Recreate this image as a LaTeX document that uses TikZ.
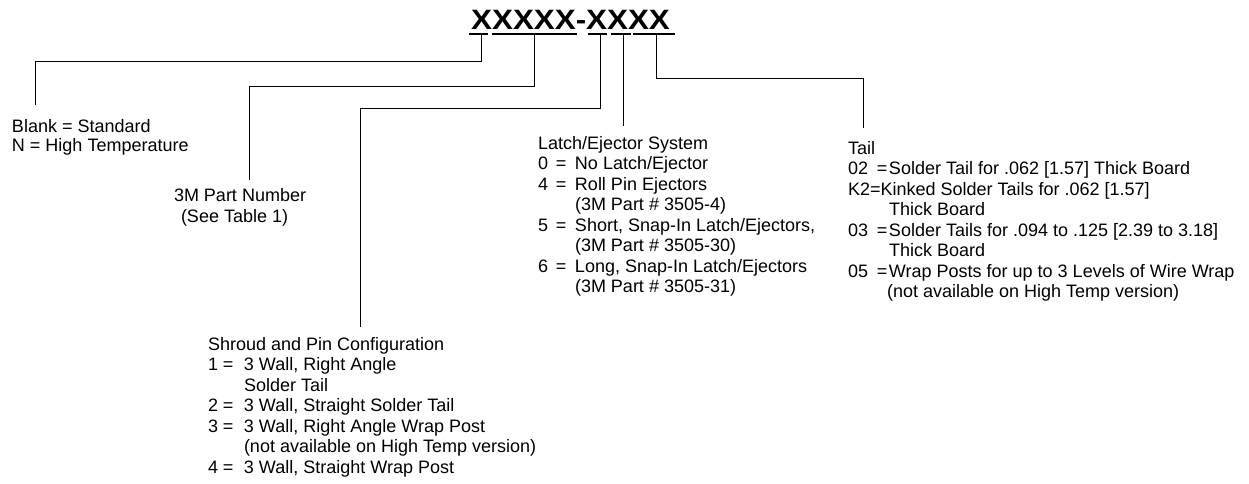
\documentclass[tikz,border=0pt]{standalone}
\usepackage{fontspec}
\setmainfont{Liberation Sans}
\begin{document}
\begin{tikzpicture}[x=1pt,y=-1pt,
  blk/.style={inner sep=0pt,outer sep=0pt,anchor=base west,
    font=\fontsize{18}{20.5}\selectfont},
  conn/.style={draw=black,line width=0.8pt},
  uline/.style={draw=black,line width=1.1pt}]
\useasboundingbox (0,0) rectangle (1249,484);
% title
\node[inner sep=0pt,anchor=base west] (title) at (471,29.5)
  {\fontsize{28}{28}\selectfont\bfseries\scalebox{1.12}[1]{XXXXX-XXXX}};
% underlines
\coordinate (u1a) at (469,34); \coordinate (u1b) at (488,34);
\coordinate (u2a) at (492,34); \coordinate (u2b) at (577,34);
\coordinate (u3a) at (588,34); \coordinate (u3b) at (607,34);
\coordinate (u4a) at (611,34); \coordinate (u4b) at (631,34);
\coordinate (u5a) at (633,34); \coordinate (u5b) at (675,34);
\draw[uline] (u1a) -- (u1b);
\draw[uline] (u2a) -- (u2b);
\draw[uline] (u3a) -- (u3b);
\draw[uline] (u4a) -- (u4b);
\draw[uline] (u5a) -- (u5b);
\coordinate (u1) at (481,34);
\coordinate (u2) at (534,34);
\coordinate (u3) at (600,34);
\coordinate (u4) at (623,34);
\coordinate (u5) at (656,34);
% connector ends
\coordinate (e1) at (35,105);
\coordinate (e2) at (249,180);
\coordinate (e3) at (360,327);
\coordinate (e4) at (623,126);
\coordinate (e5) at (863,128);
\draw[conn] (u1) |- (35,61) -- (e1);
\draw[conn] (u2) |- (249,86) -- (e2);
\draw[conn] (u3) |- (360,108) -- (e3);
\draw[conn] (u4) -- (e4);
\draw[conn] (u5) |- (863,78) -- (e5);
% blank block
\node[blk,font=\fontsize{18}{19}\selectfont] (blank) at (12,132)
  {\begin{tabular}[t]{@{}l@{}}Blank = Standard\\N = High Temperature\end{tabular}};
% part number
\node[blk] (pn1) at (174,201) {3M Part Number};
\node[blk] (pn2) at (181,222) {(See Table 1)};
% shroud
\node[blk] (shroud) at (208,350)
  {\begin{tabular}[t]{@{}p{15pt}@{}p{21pt}@{}l@{}}
  \multicolumn{3}{@{}l@{}}{Shroud and Pin Configuration}\\
  1 & = & 3 Wall, Right Angle\\
    &   & Solder Tail\\
  2 & = & 3 Wall, Straight Solder Tail\\
  3 & = & 3 Wall, Right Angle Wrap Post\\
    &   & (not available on High Temp version)\\
  4 & = & 3 Wall, Straight Wrap Post
  \end{tabular}};
% latch
\node[blk] (latch) at (538,149)
  {\begin{tabular}[t]{@{}p{18pt}@{}p{19pt}@{}l@{}}
  \multicolumn{3}{@{}l@{}}{Latch/Ejector System}\\
  0 & = & No Latch/Ejector\\
  4 & = & Roll Pin Ejectors\\
    &   & (3M Part \# 3505-4)\\
  5 & = & Short, Snap-In Latch/Ejectors,\\
    &   & (3M Part \# 3505-30)\\
  6 & = & Long, Snap-In Latch/Ejectors\\
    &   & (3M Part \# 3505-31)
  \end{tabular}};
% tail
\node[blk] (tail) at (848,154)
  {\begin{tabular}[t]{@{}p{29pt}@{}p{12pt}@{}l@{}}
  \multicolumn{3}{@{}l@{}}{Tail}\\
  02 & = & Solder Tail for .062 [1.57] Thick Board\\
  \multicolumn{3}{@{}l@{}}{K2=Kinked Solder Tails for .062 [1.57]}\\
     &   & Thick Board\\
  03 & = & Solder Tails for .094 to .125 [2.39 to 3.18]\\
     &   & Thick Board\\
  05 & = & Wrap Posts for up to 3 Levels of Wire Wrap\\
     &   & \hspace{-2pt}(not available on High Temp version)
  \end{tabular}};
\end{tikzpicture}
\end{document}
